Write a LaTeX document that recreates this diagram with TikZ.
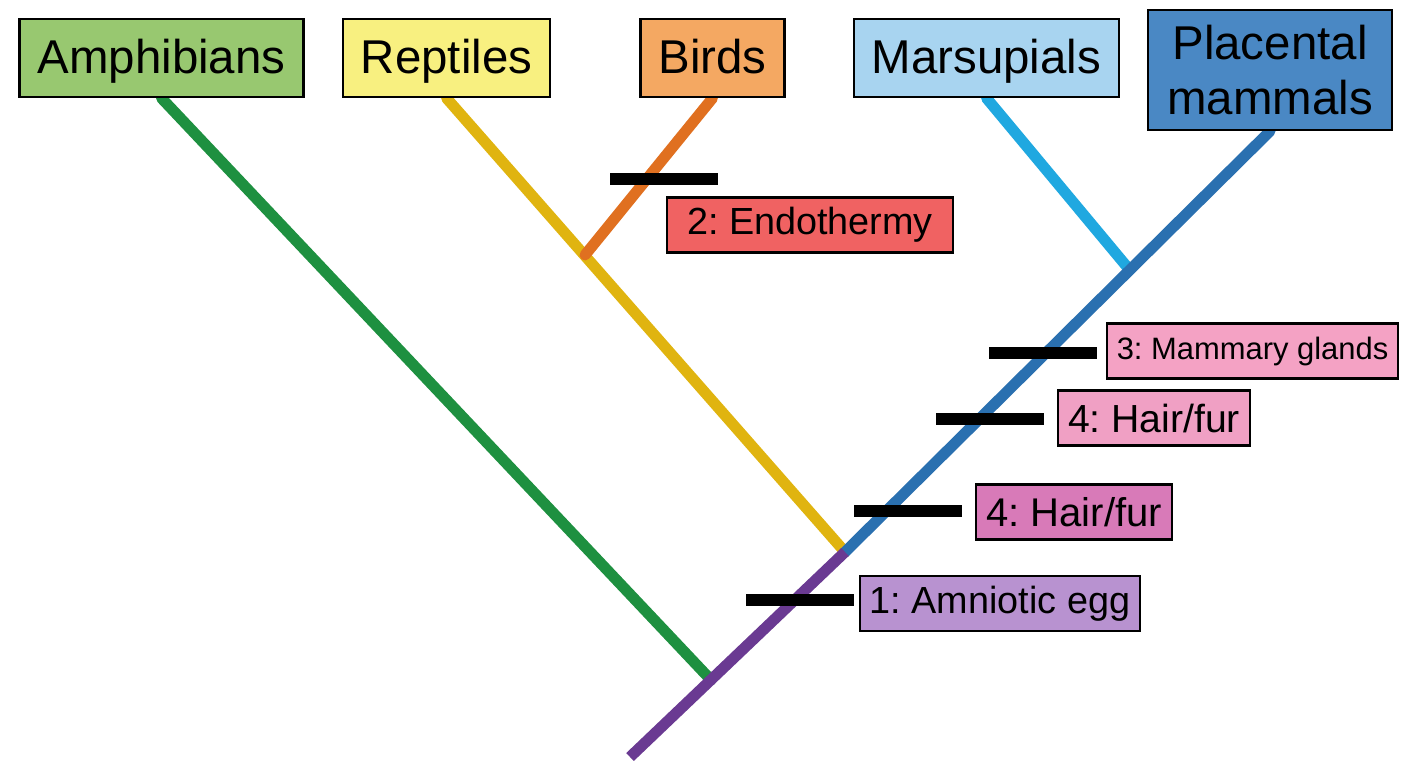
\documentclass[tikz,border=0pt]{standalone}
\usepackage{fontspec}
\setmainfont{Liberation Sans}
\usetikzlibrary{backgrounds}
\frenchspacing

\definecolor{amphfill}{HTML}{98C870}
\definecolor{reptfill}{HTML}{F8F080}
\definecolor{birdfill}{HTML}{F4A862}
\definecolor{marsfill}{HTML}{A8D4F0}
\definecolor{placfill}{HTML}{4A88C4}
\definecolor{endofill}{HTML}{F06262}
\definecolor{mammfill}{HTML}{F4A2C4}
\definecolor{hairfill}{HTML}{F0A0C4}
\definecolor{hairdark}{HTML}{D87AB8}
\definecolor{amniofill}{HTML}{B892D0}
\definecolor{amphline}{HTML}{1E9040}
\definecolor{reptline}{HTML}{E0B410}
\definecolor{birdline}{HTML}{E07020}
\definecolor{marsline}{HTML}{20A8E0}
\definecolor{placline}{HTML}{2A70B0}
\definecolor{rootline}{HTML}{6A3A92}

\tikzstyle{taxon} = [
  draw=black,
  line width=1.3pt,
  minimum height=1.56cm,
  inner xsep=0.36cm,
  text depth=0.21em,
  align=center,
  font=\fontsize{27}{31}\selectfont,
]
\tikzstyle{trait} = [
  draw=black,
  line width=1.3pt,
  minimum height=1.1cm,
  inner xsep=0.2cm,
  font=\fontsize{21.5}{24}\selectfont,
]
\tikzstyle{branch} = [line width=0.22cm, line cap=round]
\tikzstyle{bar} = [line width=0.24cm, black]

\begin{document}
\begin{tikzpicture}[x=0.02cm, y=-0.02cm]
      \useasboundingbox (0,0) rectangle (1408,768);

      % Taxa
      \node[taxon, fill=amphfill] (amph) at (161.5,58) {Amphibians};
      \node[taxon, fill=reptfill] (rept) at (446.5,58) {Reptiles};
      \node[taxon, fill=birdfill] (birds) at (712.5,58) {Birds};
      \node[taxon, fill=marsfill] (mars) at (986.5,58) {Marsupials};
      \node[taxon, fill=placfill, text depth=0pt, minimum height=2.4cm, minimum width=4.88cm] (plac) at (1270,70) {Placental\\mammals};

      % Branch points
      \coordinate (root) at (630,757);
      \coordinate (amnio) at (711,680);
      \coordinate (mamm) at (845,552);
      \coordinate (archo) at (585,255);
      \coordinate (theria) at (1128,268);

      % Branches
      \begin{scope}[on background layer]
        \draw[branch, amphline] (amnio) -- (amph.south);
        \draw[branch, reptline] (mamm) -- (rept.south);
        \draw[branch, birdline] (archo) -- (birds.south);
        \draw[branch, marsline] (theria) -- (mars.south);
        \draw[branch, placline] (mamm) -- (plac.south);
        \draw[branch, rootline, line cap=butt] (root) -- (mamm);
      \end{scope}

      % Traits
      \foreach \x/\y in {664/179, 1043/353, 990/419, 908/511, 800/600}
        \draw[bar] (\x-54,\y) -- (\x+54,\y);

      \node[trait, fill=endofill, minimum width=5.72cm] (endo) at (810,225) {2: Endothermy};
      \node[trait, fill=mammfill, font=\fontsize{17.6}{20}\selectfont] (glands) at (1252.5,351) {3: Mammary glands};
      \node[trait, fill=hairfill, font=\fontsize{22.3}{25}\selectfont] (hairup) at (1154,418) {4: Hair/fur};
      \node[trait, fill=hairdark, font=\fontsize{22.8}{25}\selectfont] (hairlow) at (1074,512) {4: Hair/fur};
      \node[trait, fill=amniofill] (egg) at (1000,603.5) {1: Amniotic egg};
    \end{tikzpicture}
\end{document}
